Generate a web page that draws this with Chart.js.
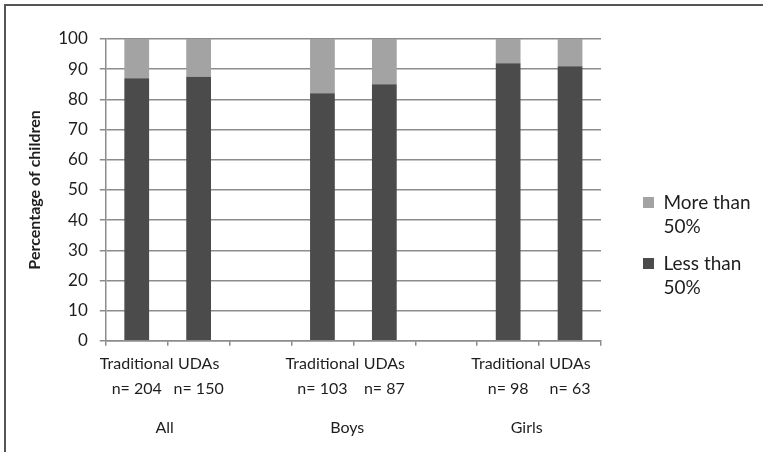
<!DOCTYPE html>
<html>
<head>
<meta charset="utf-8">
<script src="https://cdn.jsdelivr.net/npm/chart.js@4"></script>
<style>
  html, body { margin: 0; padding: 0; background: #fff; }
  #wrap { position: relative; width: 763px; height: 452px; overflow: hidden; }
  #frame { position: absolute; left: 4px; top: 4px; width: 800px; height: 500px;
           border-left: 2px solid #555; border-top: 2px solid #555; }
  #chart { position: absolute; left: 0; top: 0; }
</style>
</head>
<body>
<div id="wrap">
  <div id="frame"></div>
  <canvas id="chart" width="763" height="452"></canvas>
</div>
<script>
// categories (blank slots separate the groups)
const typeLabels = ["Traditional", "UDAs", "", "Traditional", "UDAs", "", "Traditional", "UDAs"];
const sampleSizes = ["n= 204", "n= 150", "", "n= 103", "n= 87", "", "n= 98", "n= 63"];
const groupLabels = ["All", "Boys", "Girls"];

// percentage of children
const lessThan50 = [87, 87.5, null, 82, 85, null, 92, 91];
const moreThan50 = [13, 12.5, null, 18, 15, null, 8, 9];

const yTicks = [0, 10, 20, 30, 40, 50, 60, 70, 80, 90, 100];

const gridGray = "#8c8c8c";
const textDark = "#1e1e1e";
Chart.defaults.font.family = "Lato";
Chart.defaults.color = textDark;

// where the group captions sit, in category units along the x axis
const groupTickAt = [0.95, 3.9, 6.8];

const ctx = document.getElementById("chart").getContext("2d");

new Chart(ctx, {
    type: "bar",
    data: {
        labels: typeLabels.map((t, i) => [t, sampleSizes[i]]),
        datasets: [
            {
                label: "Less than 50%",
                data: lessThan50,
                backgroundColor: "#4b4b4b",
                barPercentage: 0.4,
                categoryPercentage: 1.0,
            },
            {
                label: "More than 50%",
                data: moreThan50,
                backgroundColor: "#a3a3a3",
                barPercentage: 0.4,
                categoryPercentage: 1.0,
            },
        ],
    },
    options: {
        responsive: false,
        animation: false,
        devicePixelRatio: 1,
        layout: { padding: { left: 20, top: 39, right: 11, bottom: 4 } },
        plugins: {
            tooltip: { enabled: false },
            legend: {
                position: "right",
                reverse: true,
                // empty title only nudges the items down a little
                title: { display: true, text: " ", font: { size: 8, lineHeight: 1 }, padding: 0 },
                labels: {
                    boxWidth: 11,
                    boxHeight: 11,
                    padding: 13,
                    color: textDark,
                    font: { size: 19, lineHeight: 1.263 },
                    generateLabels: (chart) => {
                        const items = Chart.defaults.plugins.legend.labels.generateLabels(chart);
                        items.forEach(it => {
                            const parts = it.text.split(" ");
                            it.text = [parts.slice(0, 2).join(" "), parts[2]];
                            it.lineWidth = 0;
                        });
                        return items;
                    },
                },
            },
        },
        scales: {
            x: {
                stacked: true,
                weight: 0,
                grid: {
                    display: true,
                    drawOnChartArea: false,
                    drawTicks: true,
                    tickLength: 5,
                    color: gridGray,
                    lineWidth: 1.5,
                },
                border: { display: true, color: gridGray, width: 1.5 },
                ticks: {
                    autoSkip: false,
                    maxRotation: 0,
                    padding: 6,
                    color: textDark,
                    font: { size: 16, lineHeight: 1.53 },
                },
            },
            x2: {
                type: "linear",
                position: "bottom",
                weight: 1,
                offset: false,
                min: 0,
                max: 8,
                grid: { display: false, drawTicks: false },
                border: { display: false },
                afterBuildTicks: (scale) => {
                    scale.ticks = groupTickAt.map(v => ({ value: v }));
                },
                ticks: {
                    autoSkip: false,
                    maxRotation: 0,
                    padding: 11,
                    color: textDark,
                    font: { size: 16, lineHeight: 1.2 },
                    callback: (value, idx) => groupLabels[idx],
                },
            },
            y: {
                stacked: true,
                min: 0,
                max: 100,
                afterBuildTicks: (scale) => {
                    scale.ticks = yTicks.map(v => ({ value: v }));
                },
                grid: {
                    color: gridGray,
                    lineWidth: 1.5,
                    drawTicks: true,
                    tickLength: 6,
                },
                border: { display: true, color: gridGray, width: 1.5 },
                ticks: {
                    padding: 12,
                    color: textDark,
                    font: { size: 17 },
                },
                title: {
                    display: true,
                    text: "Percentage of children",
                    color: textDark,
                    font: { size: 16, weight: "bold" },
                    padding: { top: 5, bottom: 2 },
                },
            },
            yR: {
                type: "linear",
                position: "right",
                display: true,
                grid: { display: false, drawTicks: false },
                border: { display: false },
                ticks: { display: false },
                afterFit: (scale) => { scale.width = 29; },
            },
        },
    },
});
</script>
</body>
</html>
